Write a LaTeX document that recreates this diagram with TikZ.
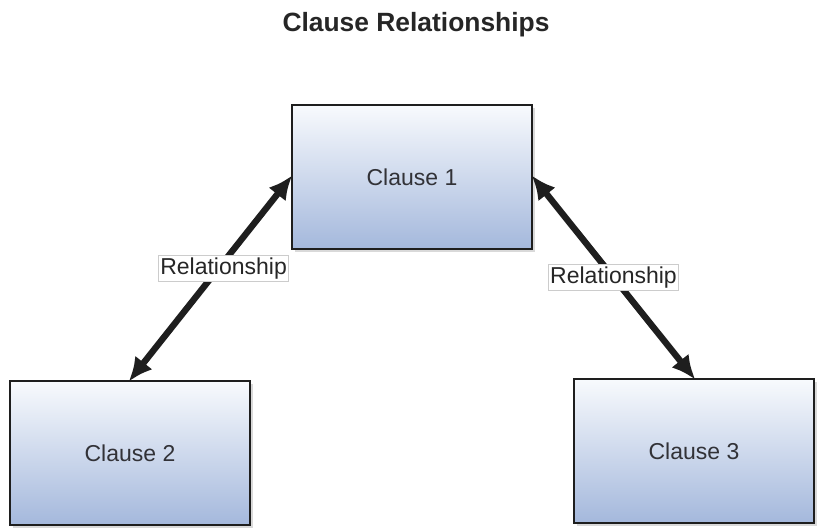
\documentclass[tikz,border=0pt]{standalone}
\usepackage{fontspec}
\setmainfont{Liberation Sans}
\usetikzlibrary{arrows.meta,shadows}
\begin{document}
\begin{tikzpicture}[
	x=0.5pt, y=-0.5pt,
	clause/.style={draw=clauseline, line width=1pt, minimum width=120pt, minimum height=72pt,
		top color=clausetop, bottom color=clausebot, text=clausetext, font=\fontsize{11.5}{14}\selectfont,
		drop shadow={shadow xshift=1.5pt, shadow yshift=-1.5pt, opacity=0.3}},
	relation/.style={clauseline, line width=3.2pt, {Latex[length=12pt,width=11pt]}-{Latex[length=12pt,width=11pt]}, shorten <=-1pt, shorten >=-1pt},
	rellabel/.style={fill=white, draw=gray!40, line width=0.4pt, inner sep=1pt, text=black!85, font=\fontsize{11.5}{14}\selectfont}
	]
		\definecolor{clausetop}{RGB}{248, 250, 253}
		\definecolor{clausebot}{RGB}{164, 184, 220}
		\definecolor{clauseline}{RGB}{30, 30, 30}
		\definecolor{clausetext}{RGB}{50, 50, 55}
	\useasboundingbox (0, 0) rectangle (820, 527);

	% title
	\node [font=\bfseries\fontsize{13.2}{16}\selectfont, text=black!85] (title) at (416, 25) {Clause Relationships};

	% clauses
	\node [clause] (c1) at (412, 177) {Clause 1};
	\node [clause] (c2) at (130, 453) {Clause 2};
	\node [clause] (c3) at (694, 451) {Clause 3};

	% relationships
	\draw [relation] (c2.north) -- (c1.west) node [rellabel, pos=0.55, xshift=2.5pt] (r1) {Relationship};
	\draw [relation] (c1.east) -- (c3.north) node [rellabel, pos=0.5] (r2) {Relationship};
\end{tikzpicture}
\end{document}
